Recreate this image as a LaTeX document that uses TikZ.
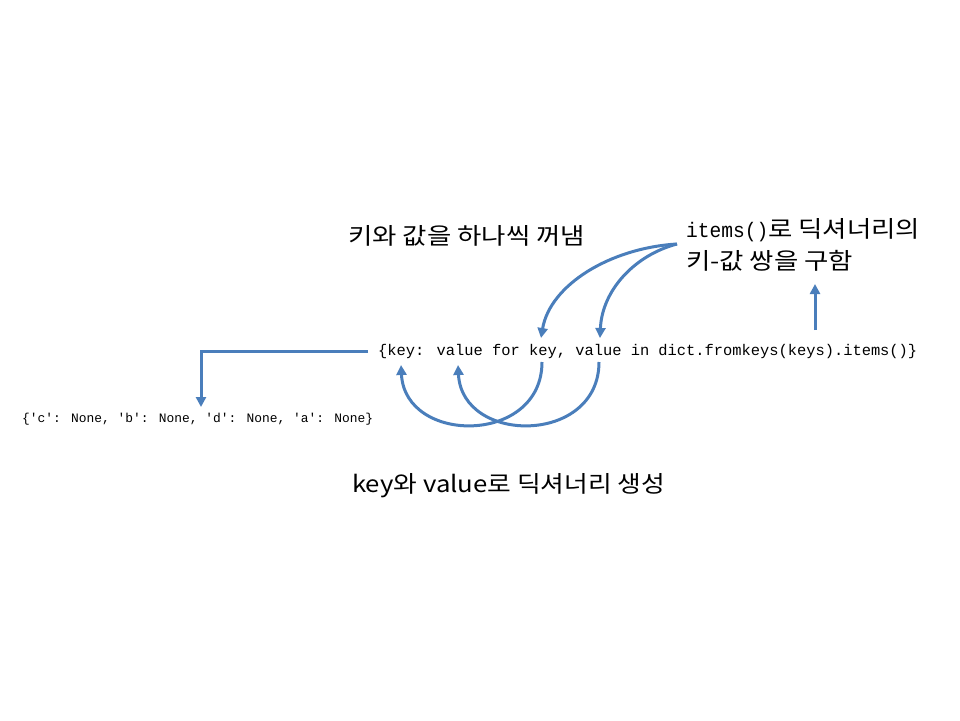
\documentclass[tikz,border=0pt]{standalone}
\usepackage{fontspec}
\setmainfont{Noto Sans CJK KR}
\newfontfamily\codefont{Liberation Mono}
\usetikzlibrary{arrows.meta}
\definecolor{arrowblue}{RGB}{74,126,187}
\newcommand{\kor}[1]{\scalebox{1.15}[1]{#1}}
\tikzset{
  conn/.style={draw=arrowblue, line width=3pt, -{Triangle[length=10pt,width=10pt]}},
  codetext/.style={inner sep=0pt, font=\fontsize{15.4}{18}\selectfont\codefont},
  outtext/.style={inner sep=0pt, font=\fontsize{12.9}{16}\selectfont\codefont},
  kortext/.style={inner sep=0pt, font=\fontsize{23}{32}\selectfont, align=left},
}
\begin{document}
\begin{tikzpicture}[x=1pt,y=-1pt]
\useasboundingbox (0,0) rectangle (960,720);
\node[codetext, anchor=west] (code) at (378,352) {\{key: value for key, value in dict.fromkeys(keys).items()\}};
\node[outtext, anchor=west] (out) at (22,419) {\{'c': None, 'b': None, 'd': None, 'a': None\}};
\node[kortext, anchor=west] (take) at (348,236) {\kor{키와 값을 하나씩 꺼냄}};
\node[kortext, anchor=west] (items) at (686,245) {\kor{{\fontsize{21}{24}\selectfont\codefont\scalebox{0.81}[1]{items()}}로 딕셔너리의}\\\kor{키-값 쌍을 구함}};
\node[kortext, anchor=west] (make) at (352,486) {\scalebox{1.12}[1]{key와 value로 딕셔너리 생성}};
% coordinates
\coordinate (c1s) at (677,244);
\coordinate (t1) at (541,338);
\coordinate (t2) at (600,338);
\coordinate (b1s) at (542,362);
\coordinate (b2s) at (599,362);
\coordinate (kt) at (401,365);
\coordinate (vt) at (458,365);
\coordinate (es) at (368,351);
\coordinate (elb) at (201,351);
\coordinate (eend) at (201,407);
\coordinate (up) at (815,330);
\coordinate (upt) at (815,284);
\draw[conn] (c1s) .. controls (610,248) and (550,285) .. (t1);
\draw[conn] (c1s) .. controls (635,255) and (602,290) .. (t2);
\draw[conn] (b1s) .. controls (542,445) and (405,445) .. (kt);
\draw[conn] (b2s) .. controls (599,445) and (462,445) .. (vt);
\draw[conn] (es) -- (elb) -- (eend);
\draw[conn] (up) -- (upt);
\end{tikzpicture}
\end{document}
